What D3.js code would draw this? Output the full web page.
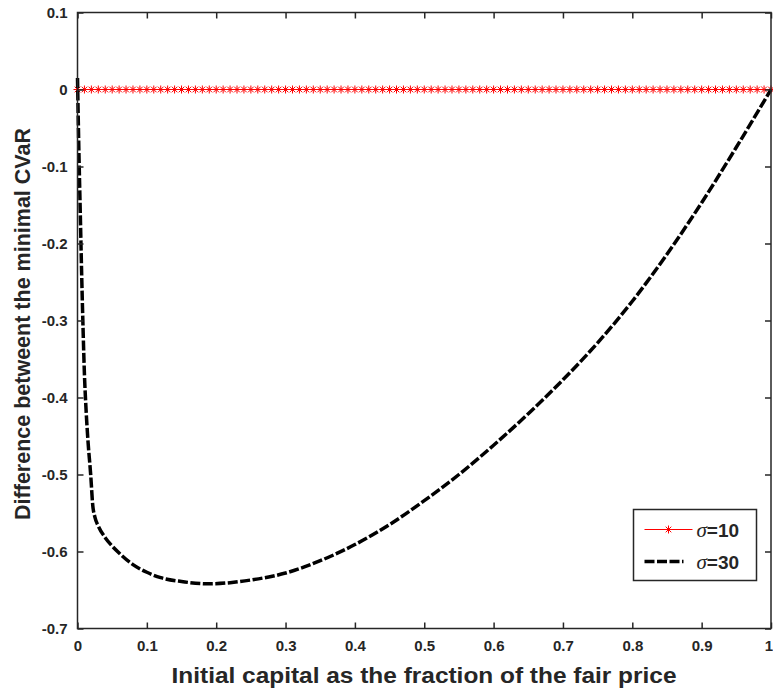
<!DOCTYPE html>
<html>
<head>
<meta charset="utf-8">
<script src="https://cdn.jsdelivr.net/npm/d3@7"></script>
<style>
  body { margin: 0; background: #fff; }
  text { font-family: "Liberation Sans", Arial, sans-serif; }
</style>
</head>
<body>
<svg id="chart" width="773" height="693"></svg>
<script>
// sigma = 30 curve
const xs30 = [0, 0.002, 0.004, 0.006, 0.008, 0.010, 0.012, 0.015, 0.019, 0.022, 0.025, 0.03,
  0.04, 0.05, 0.06, 0.08, 0.10, 0.12, 0.15, 0.19, 0.22, 0.25, 0.30, 0.35, 0.40, 0.45,
  0.50, 0.55, 0.60, 0.65, 0.70, 0.75, 0.80, 0.85, 0.90, 0.95, 1.00];
const ys30 = [0.015, -0.08, -0.16, -0.24, -0.31, -0.37, -0.41, -0.455, -0.50, -0.54, -0.555, -0.567,
  -0.582, -0.593, -0.602, -0.617, -0.627, -0.634, -0.639, -0.642, -0.6405, -0.637, -0.628, -0.612, -0.591, -0.565,
  -0.534, -0.500, -0.462, -0.421, -0.377, -0.329, -0.275, -0.214, -0.147, -0.075, 0];

// sigma = 10: zero everywhere, markers every 0.01
const xs10 = d3.range(0, 101).map(i => i / 100);
const ys10 = xs10.map(() => 0);

const xTicks = [0, 0.1, 0.2, 0.3, 0.4, 0.5, 0.6, 0.7, 0.8, 0.9, 1];
const yTicks = [0.1, 0, -0.1, -0.2, -0.3, -0.4, -0.5, -0.6, -0.7];
const legendLabels = ['=10', '=30'];

const axisColor = '#262626';
const svg = d3.select('#chart');
const x = d3.scaleLinear().domain([0, 1]).range([77.5, 771]);
const y = d3.scaleLinear().domain([-0.7, 0.1]).range([628.5, 12.5]);

const g = svg.append('g');
const fmt = d => String(+d.toFixed(1)); // plain hyphen minus, like MATLAB

// Lines
const line = d3.line().x(d => x(d[0])).y(d => y(d[1])).curve(d3.curveMonotoneX);

g.append('path')
  .datum(xs10.map((v, i) => [v, ys10[i]]))
  .attr('d', line)
  .attr('fill', 'none')
  .attr('stroke', '#ff0000')
  .attr('stroke-width', 1);

const star = (sel, cx, cy, r) => {
  const p = `M${cx - r},${cy}H${cx + r}M${cx},${cy - r}V${cy + r}` +
    `M${cx - r * 0.7},${cy - r * 0.7}L${cx + r * 0.7},${cy + r * 0.7}` +
    `M${cx - r * 0.7},${cy + r * 0.7}L${cx + r * 0.7},${cy - r * 0.7}`;
  sel.append('path').attr('d', p).attr('stroke', '#ff0000').attr('stroke-width', 1).attr('fill', 'none');
};
xs10.forEach((v, i) => star(g, x(v), y(ys10[i]), 4));

g.append('path')
  .datum(xs30.map((v, i) => [v, ys30[i]]))
  .attr('d', line)
  .attr('fill', 'none')
  .attr('stroke', '#000')
  .attr('stroke-width', 3.5)
  .attr('stroke-dasharray', '10,2.5');

// Axes (MATLAB style: ticks inside, box)
const tickLen = 6;
g.append('g')
  .attr('transform', `translate(0,${y(-0.7)})`)
  .call(d3.axisBottom(x).tickValues(xTicks).tickSize(-tickLen).tickPadding(12).tickFormat(fmt))
  .call(a => a.select('.domain').remove())
  .call(a => a.selectAll('.tick text').filter(d => d === 1).attr('text-anchor', 'end').attr('dx', 1.5));
g.append('g')
  .attr('transform', `translate(0,${y(0.1)})`)
  .call(d3.axisTop(x).tickValues(xTicks).tickSize(-tickLen).tickFormat(''))
  .call(a => a.select('.domain').remove());
g.append('g')
  .attr('transform', `translate(${x(0)},0)`)
  .call(d3.axisLeft(y).tickValues(yTicks).tickSize(-tickLen).tickPadding(10).tickFormat(fmt))
  .call(a => a.select('.domain').remove());
g.append('g')
  .attr('transform', `translate(${x(1)},0)`)
  .call(d3.axisRight(y).tickValues(yTicks).tickSize(-tickLen).tickFormat(''))
  .call(a => a.select('.domain').remove());

g.selectAll('.tick line').attr('stroke', axisColor).attr('stroke-width', 1.5);
g.selectAll('.tick text')
  .attr('fill', axisColor)
  .style('font-size', '15px')
  .style('font-weight', 'bold');

g.append('rect')
  .attr('x', x(0)).attr('y', y(0.1))
  .attr('width', x(1) - x(0)).attr('height', y(-0.7) - y(0.1))
  .attr('fill', 'none').attr('stroke', axisColor).attr('stroke-width', 1.5);

// Axis labels
svg.append('text')
  .attr('x', 424).attr('y', 683)
  .attr('text-anchor', 'middle')
  .attr('fill', axisColor)
  .attr('textLength', 505).attr('lengthAdjust', 'spacingAndGlyphs')
  .style('font-size', '22px').style('font-weight', 'bold')
  .text('Initial capital as the fraction of the fair price');

svg.append('text')
  .attr('transform', `translate(30,${324}) rotate(-90)`)
  .attr('text-anchor', 'middle')
  .attr('fill', axisColor)
  .style('font-size', '21.5px').style('font-weight', 'bold')
  .text('Difference betweent the minimal CVaR');

// Legend
const lg = svg.append('g').attr('transform', 'translate(633.5,509.5)');
lg.append('rect').attr('width', 123).attr('height', 71)
  .attr('fill', '#fff').attr('stroke', axisColor).attr('stroke-width', 1.5);

const rows = [20, 52];
lg.append('line').attr('x1', 11).attr('x2', 59).attr('y1', rows[0]).attr('y2', rows[0])
  .attr('stroke', '#ff0000').attr('stroke-width', 1);
star(lg, 35, rows[0], 4);
lg.append('line').attr('x1', 11).attr('x2', 59).attr('y1', rows[1]).attr('y2', rows[1])
  .attr('stroke', '#000').attr('stroke-width', 3.5).attr('stroke-dasharray', '10,2.5,10,2.5,10,2.5,1.5,100');

legendLabels.forEach((lab, i) => {
  const t = lg.append('text').attr('x', 63).attr('y', rows[i] + 7)
    .attr('fill', axisColor).style('font-size', '19px');
  t.append('tspan').style('font-family', '"Liberation Serif", serif').style('font-style', 'italic')
    .style('font-size', '21px').text('σ');
  t.append('tspan').style('font-weight', 'bold').text(lab);
});
</script>
</body>
</html>
